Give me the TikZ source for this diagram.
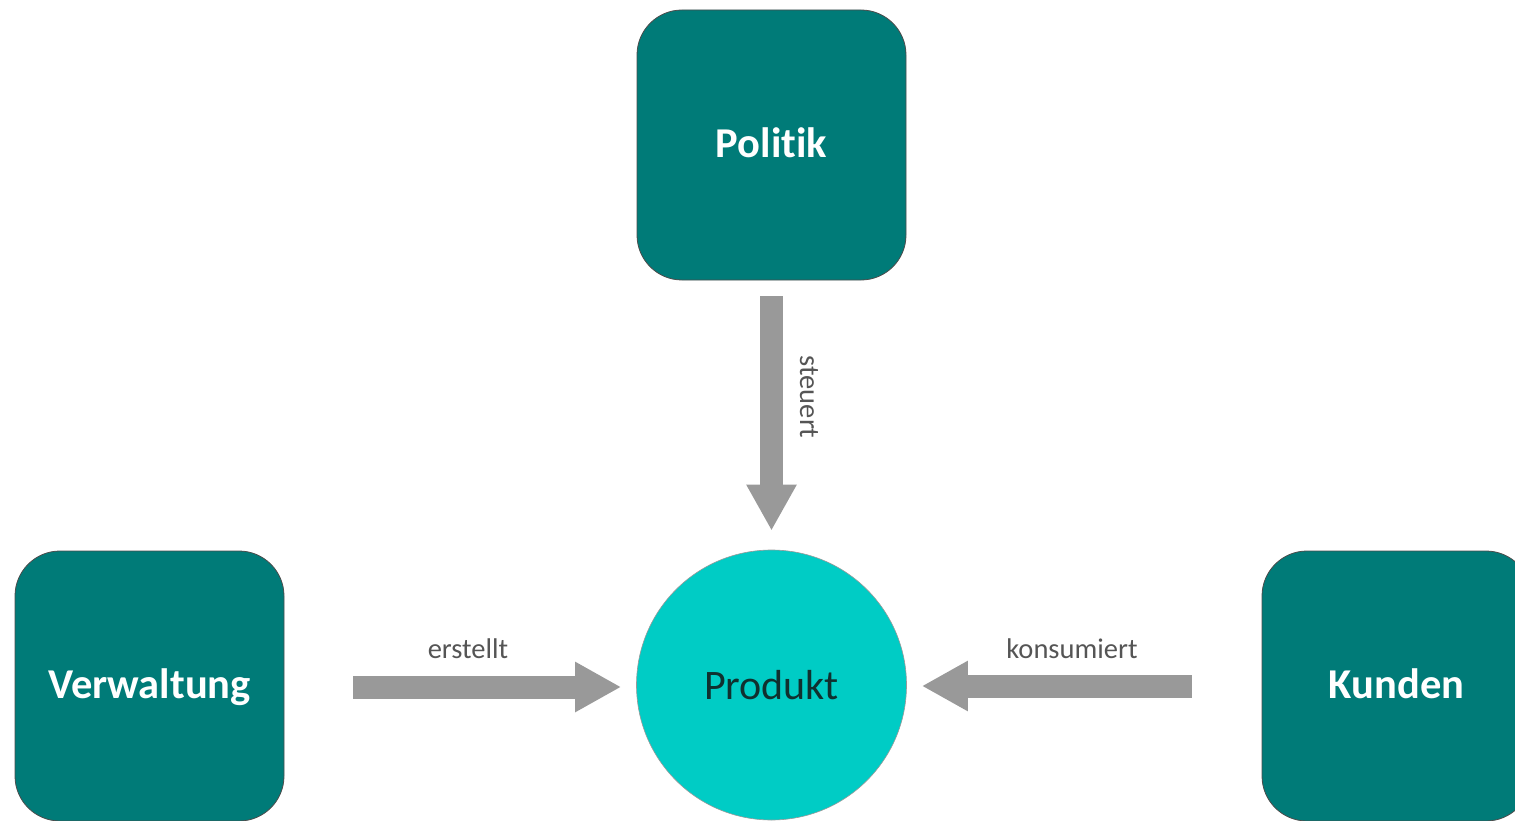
\documentclass[tikz,border=0pt]{standalone}
\usepackage{fontspec}
\setmainfont{Carlito}[Ligatures=NoCommon]
\usetikzlibrary{arrows.meta}
\definecolor{boxteal}{HTML}{007B78}
\definecolor{circteal}{HTML}{00CCC5}
\definecolor{arrgray}{HTML}{999999}
\definecolor{lblgray}{HTML}{555555}
\definecolor{prodtext}{HTML}{10302F}
\tikzset{
  actor/.style={draw=black!70, line width=0.8pt, fill=boxteal, rounded corners=45pt,
    minimum width=269pt, minimum height=270pt, inner sep=0pt,
    text height=29pt, text depth=4pt,
    text=white, font=\fontsize{42.5}{45}\selectfont\bfseries},
  prod/.style={circle, draw=black!40, line width=0.6pt, fill=circteal, minimum size=270pt,
    inner sep=0pt, text=prodtext, font=\fontsize{42}{45}\selectfont},
  fatarrow/.style={draw=arrgray, line width=23pt, -{Triangle[length=46pt,width=47pt]}},
  lbl/.style={text=lblgray, font=\fontsize{28.5}{30}\selectfont, inner sep=0pt}
}
\begin{document}
\begin{tikzpicture}[x=1pt,y=-1pt]
\useasboundingbox (0,0) rectangle (1515,821);
\node[actor] (politik) at (771.5,145) {Politik};
\node[actor] (verw) at (149.5,686) {Verwaltung};
\node[actor] (kunden) at (1396.5,686) {Kunden};
\node[prod] (produkt) at (771.5,685) {Produkt};
\draw[fatarrow, shorten <=16pt, shorten >=19pt] (politik.south) -- (produkt.north);
\draw[fatarrow, shorten <=69pt, shorten >=15pt] (verw.east |- 0,687) -- (produkt.west |- 0,687);
\draw[fatarrow, shorten <=70pt, shorten >=15pt] (kunden.west |- 0,686) -- (produkt.east |- 0,686);
\node[lbl, rotate=-90] (steuert) at (809,397) {steuert};
\node[lbl] (erstellt) at (468,649) {erstellt};
\node[lbl] (konsum) at (1072,649) {konsumiert};
\end{tikzpicture}
\end{document}
